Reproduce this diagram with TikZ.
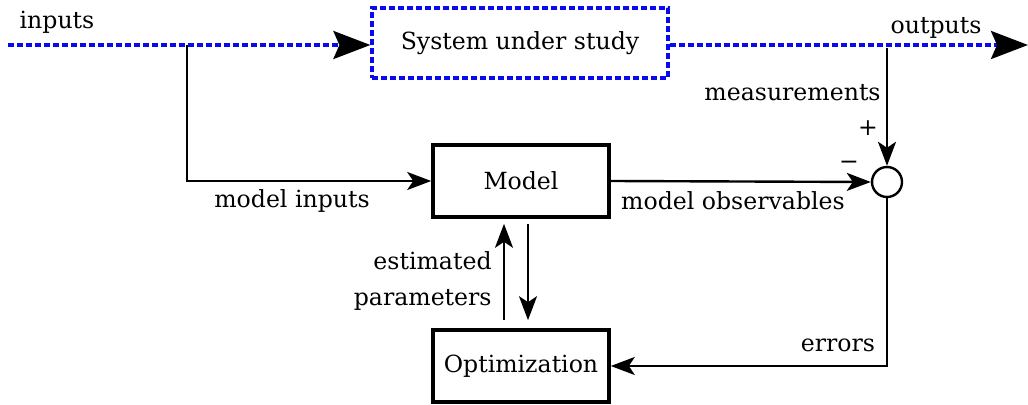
\documentclass[tikz,border=0pt]{standalone}
\usepackage{fontspec}
\setmainfont{DejaVu Serif}
\usepackage{tikz}
\usetikzlibrary{shapes.geometric, arrows, arrows.meta}
\definecolor{sysblue}{RGB}{10,10,240}
\tikzstyle{system} = [rectangle, minimum width=148pt, minimum height=35pt, text centered, draw=sysblue, line width=1.6pt, dash pattern=on 3pt off 1.5pt]
\tikzstyle{block} = [rectangle, minimum width=88pt, minimum height=36pt, text centered, draw=black, line width=1.8pt]
\tikzstyle{sum} = [circle, minimum size=15pt, inner sep=0pt, draw=black, line width=1.2pt]
\tikzstyle{arrow} = [line width=1.2pt, -{Stealth[length=12pt, width=9pt, inset=3pt]}]
\tikzstyle{signal} = [draw=sysblue, line width=1.6pt, dash pattern=on 3pt off 1.5pt, -{Stealth[length=18.5pt, width=14pt, inset=3pt, black]}]

\begin{document}
\begin{tikzpicture}
			[x=0.5pt, y=-0.5pt, font=\fontsize{11.8}{18}\selectfont]
			\useasboundingbox (0,0) rectangle (1028,405);

			\node (sys) [system] at (520,43) {System under study};
			\node (model) [block] at (521,181) {Model};
			\node (opt) [block] at (521,366) {Optimization};
			\node (sum) [sum] at (887,182) {};

			\coordinate (in) at (8,45);
			\coordinate (out) at (1028,45);
			\coordinate (split) at (187,45);
			\coordinate (tap) at (887,48);

			\draw [signal] (in) -- (sys.west |- in);
			\draw [signal] (sys.east |- out) -- (out);
			\draw [arrow] (split) |- (model.west);
			\draw [arrow] (tap) -- (sum.north);
			\draw [arrow] (model.east) -- (sum.west);
			\draw [arrow] (sum.south) |- (opt.east);
			\draw [arrow] ([xshift=-8.5pt,yshift=4pt]opt.north) -- ([xshift=-8.5pt,yshift=-2.5pt]model.south);
			\draw [arrow] ([xshift=3.5pt,yshift=-2.5pt]model.south) -- ([xshift=3.5pt,yshift=4pt]opt.north);

			\node (inlbl) at (57,22) {inputs};
			\node (outlbl) at (936,28) {outputs};
			\node (measlbl) [anchor=east, inner sep=0pt] at (881,93) {measurements};
			\node (plus) at (868,128) {+};
			\node (minus) at (849,165) {−};
			\node (milbl) at (292,201) {model inputs};
			\node (molbl) at (733,201) {model observables};
			\node (estlbl) [anchor=east, align=right, inner sep=0pt] at (492,281) {estimated\\parameters};
			\node (errlbl) at (838,345) {errors};

			\end{tikzpicture}
\end{document}
